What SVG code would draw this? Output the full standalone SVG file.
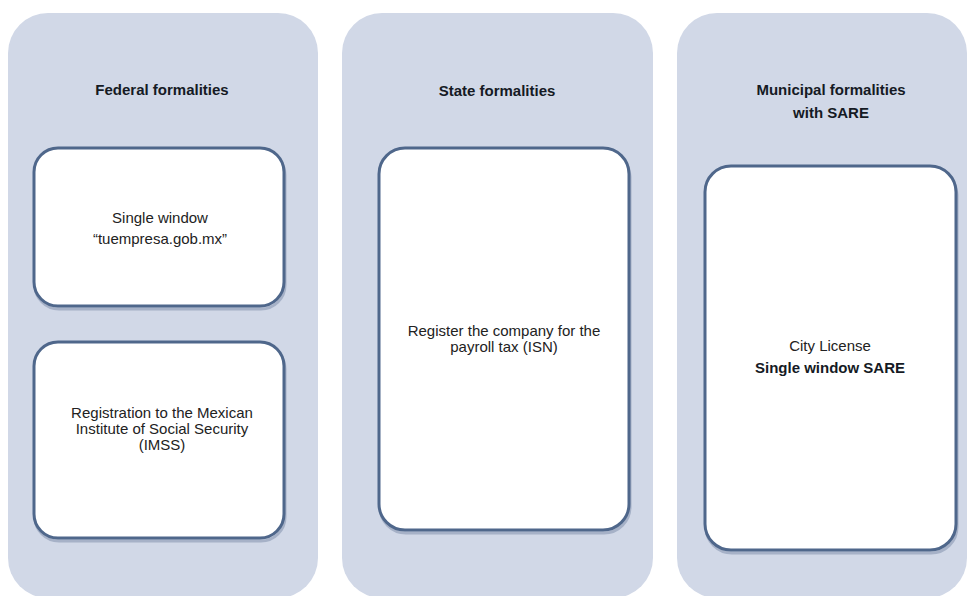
<svg xmlns="http://www.w3.org/2000/svg" width="973" height="596" viewBox="0 0 973 596">
<defs>
<style>
.panel{fill:#d1d8e7;}
.box{fill:#ffffff;stroke:#4f678b;stroke-width:3;}
.shadow{fill:none;stroke:#8898b3;stroke-width:3;opacity:0.6;}
.t{font-family:"Liberation Sans",Arial,sans-serif;font-size:15px;fill:#222222;text-anchor:middle;}
.b{font-weight:bold;fill:#151a24;}
</style>
</defs>
<rect width="973" height="596" fill="#ffffff"/>
<g id="panel-federal">
<rect class="panel" x="8" y="13" width="310" height="585" rx="40"/>
<text class="t b" x="162" y="95">Federal formalities</text>
</g>
<g id="panel-state">
<rect class="panel" x="342" y="13" width="311" height="585" rx="40"/>
<text class="t b" x="497" y="96">State formalities</text>
</g>
<g id="panel-municipal">
<rect class="panel" x="677" y="13" width="290" height="585" rx="40"/>
<text class="t b" x="831" y="95">Municipal formalities</text>
<text class="t b" x="831" y="118">with SARE</text>
</g>
<g id="box-single-window">
<rect class="shadow" x="35" y="151" width="250" height="158" rx="24"/>
<rect class="box" x="34" y="148" width="250" height="158" rx="24"/>
<text class="t" x="160" y="223">Single window</text>
<text class="t" x="160" y="244">“tuempresa.gob.mx”</text>
</g>
<g id="box-imss">
<rect class="shadow" x="35" y="345" width="250" height="196" rx="24"/>
<rect class="box" x="34" y="342" width="250" height="196" rx="24"/>
<text class="t" x="162" y="418">Registration to the Mexican</text>
<text class="t" x="162" y="434">Institute of Social Security</text>
<text class="t" x="162" y="450">(IMSS)</text>
</g>
<g id="box-isn">
<rect class="shadow" x="380" y="151" width="250" height="382" rx="26"/>
<rect class="box" x="379" y="148" width="250" height="382" rx="26"/>
<text class="t" x="504" y="336">Register the company for the</text>
<text class="t" x="504" y="352">payroll tax (ISN)</text>
</g>
<g id="box-sare">
<rect class="shadow" x="706" y="169" width="251" height="384" rx="26"/>
<rect class="box" x="705" y="166" width="251" height="384" rx="26"/>
<text class="t" x="830" y="351">City License</text>
<text class="t b" x="830" y="373">Single window SARE</text>
</g>
<g id="connectors"></g>
</svg>
